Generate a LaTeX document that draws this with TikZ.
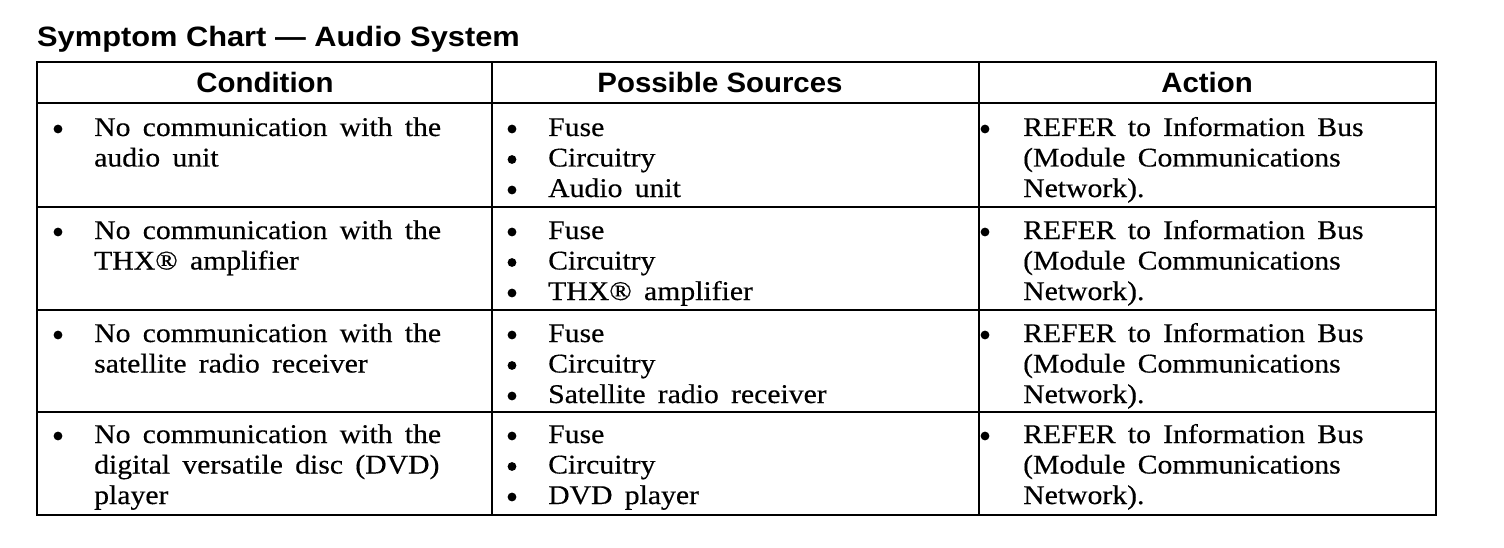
\documentclass[tikz,border=0pt]{standalone}
\usepackage{fontspec}
\setmainfont{Liberation Serif}[FakeStretch=1.1,WordSpace=1.65,FakeBold=0.4]
\newfontfamily\hdfont{Liberation Sans}[FakeStretch=1.05]
\newfontfamily\ttlfont{Liberation Sans}[FakeStretch=1.1]
\begin{document}
\begin{tikzpicture}[x=1pt,y=-1pt,
  body/.style={font=\fontsize{27}{30}\selectfont, inner sep=0pt, anchor=base west},
  head/.style={font=\hdfont\bfseries\fontsize{28}{30}\selectfont, inner sep=0pt, anchor=base},
  ttl/.style={font=\ttlfont\bfseries\fontsize{28}{30}\selectfont, inner sep=0pt, anchor=base west},
  bul/.style={circle, fill=black, inner sep=0pt, minimum size=8.8pt},
  gridline/.style={line width=2pt},
  frameline/.style={line width=2.4pt}]
\useasboundingbox (0,0) rectangle (1504,548);
% title
\node[ttl] (title) at (37,47) {Symptom Chart — Audio System};
% table grid
\foreach \yy in {103,207.5,310,411.5}{\draw[gridline] (37,\yy) -- (1436,\yy);}
\draw[gridline] (492,62) -- (492,515);
\draw[gridline] (979,62) -- (979,515);
\draw[frameline] (37,62) rectangle (1436,515);
% header
\node[head] (hcond) at (265,93) {Condition};
\node[head] (hsrc) at (720,93) {Possible Sources};
\node[head] (hact) at (1207,93) {Action};
% common row content
\foreach \rr/\yb in {1/136,2/239,3/342,4/443}{
  \pgfmathsetmacro{\yA}{\yb-7}
  \pgfmathsetmacro{\yB}{\yb+30.5}
  \pgfmathsetmacro{\yC}{\yb+23.5}
  \pgfmathsetmacro{\yD}{\yb+54}
  \pgfmathsetmacro{\yE}{\yb+61}
  \node[bul] (bulA\rr) at (58,\yA) {};
  \node[body] (condA\rr) at (94,\yb) {No communication with the};
  \node[bul] (bulBa\rr) at (512,\yA) {};
  \node[body] (srcA\rr) at (548,\yb) {Fuse};
  \node[bul] (bulBb\rr) at (512,\yC) {};
  \node[body] (srcB\rr) at (548,\yB) {Circuitry};
  \node[bul] (bulBc\rr) at (512,\yD) {};
  \node[bul] (bulC\rr) at (985,\yA) {};
  \node[body] (actA\rr) at (1023,\yb) {REFER to Information Bus};
  \node[body] (actB\rr) at (1023,\yB) {(Module Communications};
  \node[body] (actC\rr) at (1023,\yE) {Network).};
}
% row-specific text
\node[body] (condB1) at (94,166.5) {audio unit};
\node[body] (srcC1) at (548,197) {Audio unit};
\node[body] (condB2) at (94,269.5) {THX® amplifier};
\node[body] (srcC2) at (548,300) {THX® amplifier};
\node[body] (condB3) at (94,372.5) {satellite radio receiver};
\node[body] (srcC3) at (548,403) {Satellite radio receiver};
\node[body] (condB4) at (94,473.5) {digital versatile disc (DVD)};
\node[body] (condC4) at (94,504) {player};
\node[body] (srcC4) at (548,504) {DVD player};
\end{tikzpicture}
\end{document}
